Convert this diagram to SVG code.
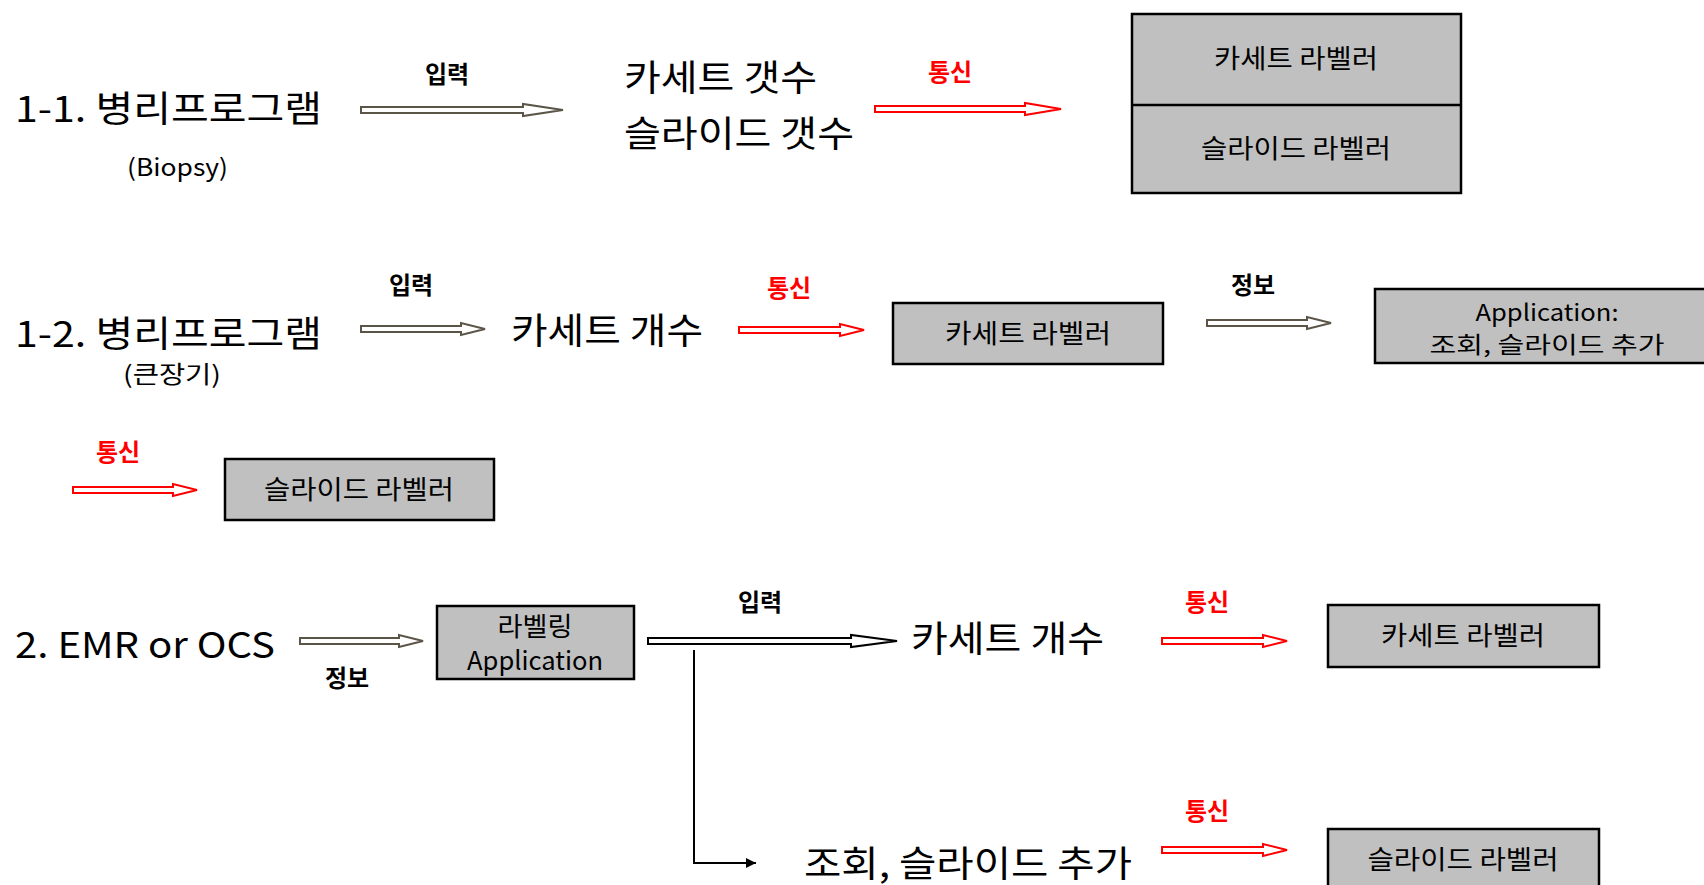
<svg xmlns="http://www.w3.org/2000/svg" width="1704" height="885" viewBox="0 0 1704 885">
<style>
text{font-family:"Noto Sans CJK KR","Noto Sans",sans-serif;fill:#000}
.big{font-size:36px}
.sub{font-size:24px}
.lbl{font-size:24px;font-weight:700}
.red{fill:#ff0000}
.box{fill:#c0c0c0;stroke:#000;stroke-width:2.5}
.bt{font-size:26px;text-anchor:middle}
.at{font-size:23px;text-anchor:middle}
.ga{fill:#fff;stroke:#5b5547;stroke-width:2}
.ra{fill:#fff;stroke:#ff0000;stroke-width:2}
.ba{fill:#fff;stroke:#000;stroke-width:2}
.c{text-anchor:middle}
</style>
<defs>
<marker id="tri" markerWidth="10" markerHeight="10" refX="10" refY="5" orient="auto" markerUnits="userSpaceOnUse" viewBox="0 0 10 10"><path d="M0,0 L10,5 L0,10 Z" fill="#000"/></marker>
</defs>

<g id="connectors">
<polygon class="ga" points="361,107 523,107 523,104 563,110 523,116 523,113 361,113"/>
<polygon class="ra" points="875,106 1025,106 1025,103 1061,109 1025,115 1025,112 875,112"/>
<polygon class="ga" points="361,326 461,326 461,323 485,329 461,335 461,332 361,332"/>
<polygon class="ra" points="739,327 840,327 840,324 864,330 840,336 840,333 739,333"/>
<polygon class="ga" points="1207,320 1307,320 1307,317 1331,323 1307,329 1307,326 1207,326"/>
<polygon class="ra" points="73,487 173,487 173,484 197,490 173,496 173,493 73,493"/>
<polygon class="ga" points="300,638 399,638 399,635 423,641 399,647 399,644 300,644"/>
<polygon class="ba" points="648,638 851,638 851,635 897,641 851,647 851,644 648,644"/>
<path d="M694,650 V863 H756" fill="none" stroke="#000" stroke-width="2" marker-end="url(#tri)"/>
<polygon class="ra" points="1162,638 1263,638 1263,635 1287,641 1263,647 1263,644 1162,644"/>
<polygon class="ra" points="1162,847 1263,847 1263,844 1287,850 1263,856 1263,853 1162,853"/>
</g>

<g id="labels">
<text class="lbl c" x="447" y="83">입력</text>
<text class="lbl c red" x="950" y="81">통신</text>
<text class="lbl c" x="411" y="294">입력</text>
<text class="lbl c red" x="789" y="297">통신</text>
<text class="lbl c" x="1253" y="294">정보</text>
<text class="lbl c red" x="118" y="461">통신</text>
<text class="lbl c" x="347" y="687">정보</text>
<text class="lbl c" x="760" y="611">입력</text>
<text class="lbl c red" x="1207" y="611">통신</text>
<text class="lbl c red" x="1207" y="820">통신</text>
</g>

<g id="n-biopsy">
<text class="big" x="15" y="122" textLength="307" lengthAdjust="spacingAndGlyphs">1-1. 병리프로그램</text>
<text class="sub" x="127" y="176" textLength="101" lengthAdjust="spacingAndGlyphs">(Biopsy)</text>
</g>
<g id="n-count1">
<text class="big" x="624" y="91" textLength="193" lengthAdjust="spacingAndGlyphs">카세트 갯수</text>
<text class="big" x="624" y="147" textLength="230" lengthAdjust="spacingAndGlyphs">슬라이드 갯수</text>
</g>
<g id="n-labelers1">
<rect class="box" x="1132" y="14" width="329" height="179"/>
<line x1="1132" y1="105" x2="1461" y2="105" stroke="#000" stroke-width="2.5"/>
<text class="bt" x="1296" y="68" textLength="164" lengthAdjust="spacingAndGlyphs">카세트 라벨러</text>
<text class="bt" x="1296" y="158" textLength="190" lengthAdjust="spacingAndGlyphs">슬라이드 라벨러</text>
</g>

<g id="n-large">
<text class="big" x="15" y="347" textLength="307" lengthAdjust="spacingAndGlyphs">1-2. 병리프로그램</text>
<text class="sub" x="123" y="383" textLength="98" lengthAdjust="spacingAndGlyphs">(큰장기)</text>
</g>
<g id="n-count2">
<text class="big" x="511" y="344" textLength="192" lengthAdjust="spacingAndGlyphs">카세트 개수</text>
</g>
<g id="n-cassette2">
<rect class="box" x="893" y="303" width="270" height="61"/>
<text class="bt" x="1028" y="343" textLength="166" lengthAdjust="spacingAndGlyphs">카세트 라벨러</text>
</g>
<g id="n-app2">
<rect class="box" x="1375" y="289" width="340" height="74"/>
<text class="at" x="1547" y="321" textLength="143" lengthAdjust="spacingAndGlyphs">Application:</text>
<text class="at" x="1547" y="353" textLength="235" lengthAdjust="spacingAndGlyphs">조회, 슬라이드 추가</text>
</g>
<g id="n-slide3">
<rect class="box" x="225" y="459" width="269" height="61"/>
<text class="bt" x="359" y="499" textLength="190" lengthAdjust="spacingAndGlyphs">슬라이드 라벨러</text>
</g>

<g id="n-emr">
<text class="big" x="15" y="658" textLength="260" lengthAdjust="spacingAndGlyphs">2. EMR or OCS</text>
</g>
<g id="n-labelapp">
<rect class="box" x="437" y="606" width="197" height="73"/>
<text class="bt" x="535" y="636" textLength="75" lengthAdjust="spacingAndGlyphs">라벨링</text>
<text class="bt" x="535" y="670" textLength="136" lengthAdjust="spacingAndGlyphs">Application</text>
</g>
<g id="n-count4">
<text class="big" x="911" y="652" textLength="193" lengthAdjust="spacingAndGlyphs">카세트 개수</text>
</g>
<g id="n-cassette4">
<rect class="box" x="1328" y="605" width="271" height="62"/>
<text class="bt" x="1463" y="645" textLength="164" lengthAdjust="spacingAndGlyphs">카세트 라벨러</text>
</g>
<g id="n-search4">
<text class="big" x="804" y="877" textLength="328" lengthAdjust="spacingAndGlyphs">조회, 슬라이드 추가</text>
</g>
<g id="n-slide4">
<rect class="box" x="1328" y="829" width="271" height="70"/>
<text class="bt" x="1463" y="869" textLength="191" lengthAdjust="spacingAndGlyphs">슬라이드 라벨러</text>
</g>
</svg>
